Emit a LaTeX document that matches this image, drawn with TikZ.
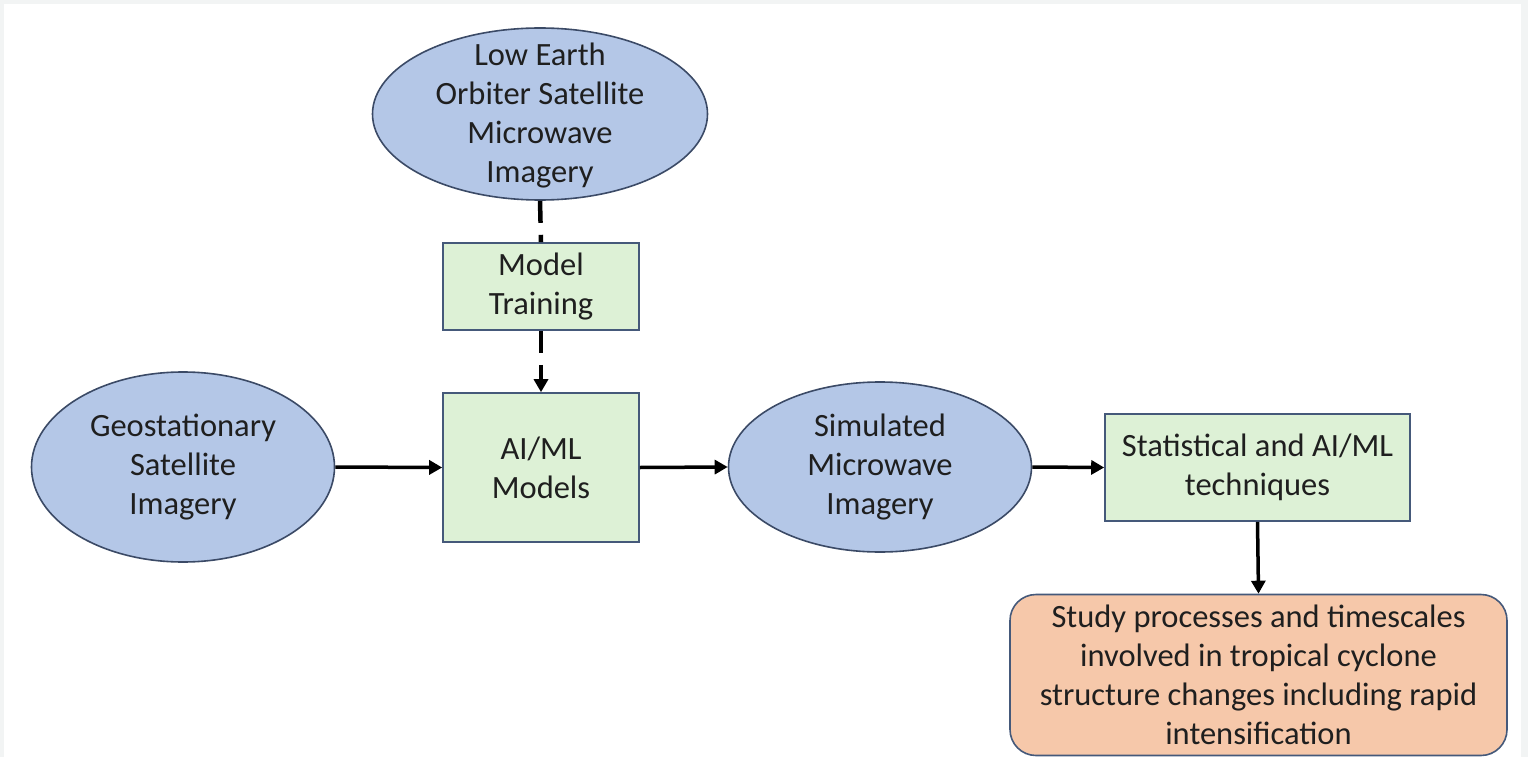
\documentclass[tikz,border=0pt]{standalone}
\usepackage{fontspec}
\setmainfont{Carlito}
\usetikzlibrary{shapes.geometric,arrows.meta}
\definecolor{frame}{HTML}{F2F4F4}
\definecolor{ellfill}{HTML}{B4C7E7}
\definecolor{ellline}{HTML}{3B4A66}
\definecolor{boxfill}{HTML}{DDF1D6}
\definecolor{boxline}{HTML}{45597A}
\definecolor{orfill}{HTML}{F6C8AA}
\tikzset{
  ell/.style={ellipse, draw=ellline, line width=1.6pt, fill=ellfill, inner sep=0pt, align=center, text=black!88},
  gbox/.style={rectangle, draw=boxline, line width=1.6pt, fill=boxfill, inner sep=0pt, align=center, text=black!88},
  obox/.style={rectangle, rounded corners=26pt, draw=boxline, line width=1.6pt, fill=orfill, inner sep=0pt, align=center, text=black!88},
  conn/.style={line width=3.5pt, -{Triangle[length=13pt,width=14pt]}},
  dconn/.style={line width=4.5pt, dash pattern=on 22pt off 12pt},
  txt/.style={font=\fontsize{32.5}{39}\selectfont},
  plain/.style={inner sep=0pt, align=center, text=black!88}
}
\begin{document}
\begin{tikzpicture}[x=1pt,y=-1pt]
\useasboundingbox (0,0) rectangle (1528,757);
\fill[frame] (0,0) rectangle (1528,757);
\fill[white] (4,4) rectangle (1521,757);
\node[ell, minimum width=335pt, minimum height=172pt] (leo) at (540,114) {};
\node[plain, txt] (leotext) at (540,116) {Low Earth\\Orbiter Satellite\\Microwave\\Imagery};
\node[gbox, txt, minimum width=196pt, minimum height=87pt] (train) at (541,286.5) {Model\\Training};
\node[gbox, txt, minimum width=196pt, minimum height=149pt] (ai) at (541,467.5) {AI/ML\\Models};
\node[ell, txt, minimum width=303pt, minimum height=190pt] (geo) at (183,467) {Geostationary\\Satellite\\Imagery};
\node[ell, txt, minimum width=303pt, minimum height=170pt] (sim) at (880,467) {Simulated\\Microwave\\Imagery};
\node[gbox, txt, minimum width=305pt, minimum height=107pt] (stat) at (1257.5,467.5) {Statistical and AI/ML\\techniques};
\node[obox, txt, minimum width=497pt, minimum height=161pt] (study) at (1258.5,675) {Study processes and timescales\\involved in tropical cyclone\\structure changes including rapid\\intensification};
\draw[dconn] (leo.south) -- (train.north);
\draw[dconn, -{Triangle[length=13pt,width=14pt]}] (train.south) -- (ai.north);
\draw[conn] (geo.east) -- (ai.west);
\draw[conn] (ai.east) -- (sim.west);
\draw[conn] (sim.east) -- (stat.west);
\draw[conn] (stat.south) -- (study.north);
\end{tikzpicture}
\end{document}
